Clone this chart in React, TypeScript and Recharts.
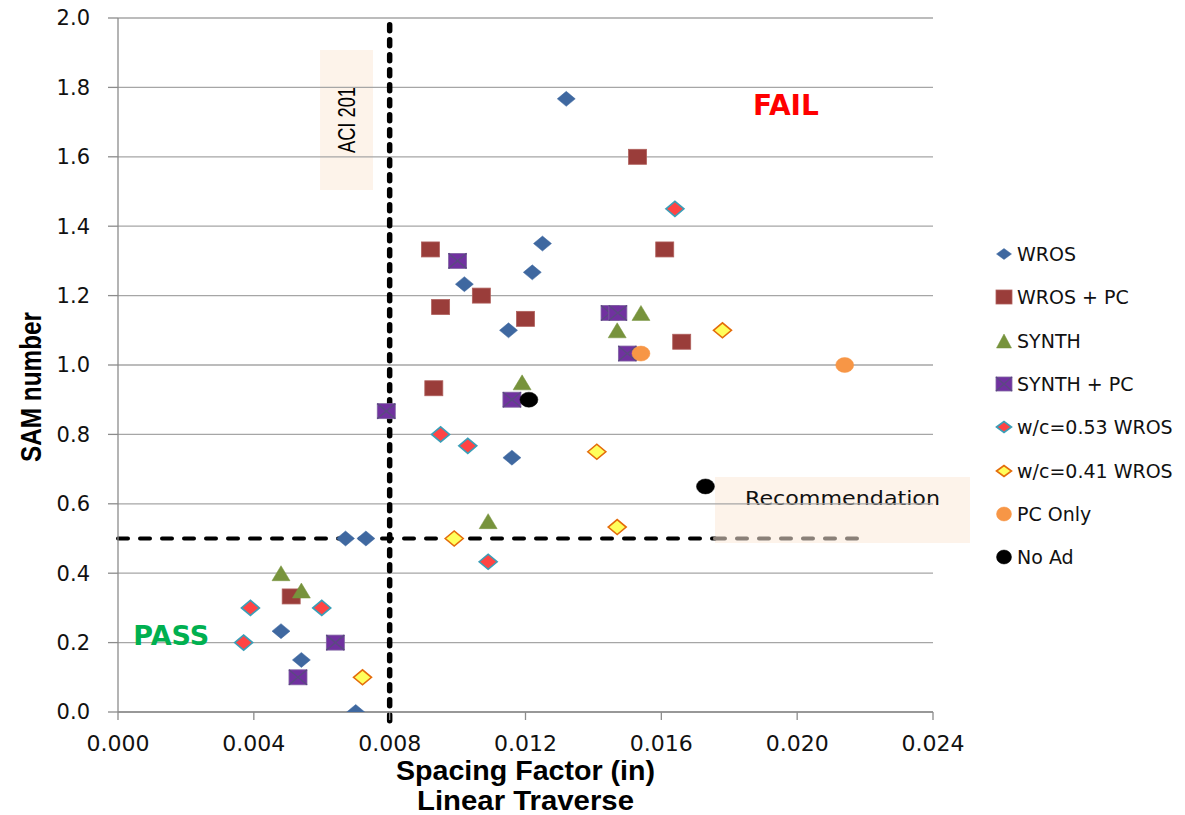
import React from 'react';
import {
  ScatterChart,
  Scatter,
  XAxis,
  YAxis,
  CartesianGrid,
  ReferenceLine,
  ReferenceArea,
  ReferenceDot,
} from 'recharts';

type Pt = [number, number];

const X_TICKS = [0, 0.004, 0.008, 0.012, 0.016, 0.02, 0.024];
const Y_TICKS = [0, 0.2, 0.4, 0.6, 0.8, 1.0, 1.2, 1.4, 1.6, 1.8, 2.0];

const WROS: Pt[] = [
  [0.0132, 1.767], [0.0125, 1.35], [0.0122, 1.267], [0.0102, 1.233], [0.0115, 1.1],
  [0.0116, 0.733], [0.0067, 0.5], [0.0073, 0.5], [0.0048, 0.233], [0.0054, 0.15], [0.007, 0],
];
const WROS_PC: Pt[] = [
  [0.0153, 1.6], [0.0092, 1.333], [0.0161, 1.333], [0.0107, 1.2], [0.0095, 1.167],
  [0.012, 1.133], [0.0166, 1.067], [0.0093, 0.933], [0.0051, 0.333],
];
const SYNTH: Pt[] = [
  [0.0154, 1.15], [0.0147, 1.1], [0.0119, 0.95], [0.0109, 0.55], [0.0048, 0.4], [0.0054, 0.35],
];
const SYNTH_PC: Pt[] = [
  [0.01, 1.3], [0.01449, 1.15], [0.01472, 1.15], [0.015, 1.033], [0.0116, 0.9],
  [0.0079, 0.867], [0.0064, 0.2], [0.0053, 0.1],
];
const WC053: Pt[] = [
  [0.0164, 1.45], [0.0095, 0.8], [0.0103, 0.767], [0.0109, 0.433], [0.0039, 0.3], [0.006, 0.3], [0.0037, 0.2],
];
const WC041: Pt[] = [
  [0.0178, 1.1], [0.0141, 0.75], [0.0147, 0.533], [0.0099, 0.5], [0.0072, 0.1],
];
const PC_ONLY: Pt[] = [[0.0154, 1.033], [0.0214, 1.0]];
const NO_AD: Pt[] = [[0.0121, 0.9], [0.0173, 0.65]];

type Kind = 'diamond' | 'square' | 'triangle' | 'xsquare' | 'circle';

interface SeriesDef {
  name: string;
  data: Pt[];
  kind: Kind;
  fill: string;
  stroke: string;
  sw: number;
}

const SERIES: SeriesDef[] = [
  { name: 'WROS', data: WROS, kind: 'diamond', fill: '#3f68a0', stroke: '#3f68a0', sw: 0.5 },
  { name: 'WROS + PC', data: WROS_PC, kind: 'square', fill: '#9a3d3a', stroke: '#b0605c', sw: 0.8 },
  { name: 'SYNTH', data: SYNTH, kind: 'triangle', fill: '#77933c', stroke: '#77933c', sw: 0.5 },
  { name: 'SYNTH + PC', data: SYNTH_PC, kind: 'xsquare', fill: '#7131a0', stroke: '#8064a2', sw: 0.8 },
  { name: 'w/c=0.53 WROS', data: WC053, kind: 'diamond', fill: '#ff4444', stroke: '#3a9fb8', sw: 1.6 },
  { name: 'w/c=0.41 WROS', data: WC041, kind: 'diamond', fill: '#ffff5c', stroke: '#e46c0a', sw: 1.6 },
  { name: 'PC Only', data: PC_ONLY, kind: 'circle', fill: '#f79646', stroke: '#f79646', sw: 0.5 },
  { name: 'No Ad', data: NO_AD, kind: 'circle', fill: '#000000', stroke: '#000000', sw: 0.5 },
];

const toPts = (d: Pt[]) => d.map(([x, y]) => ({ x, y }));

function Marker(props: {
  kind: Kind; cx: number; cy: number; fill: string; stroke: string; sw: number; w: number; h: number;
}) {
  const { kind, cx, cy, fill, stroke, sw, w, h } = props;
  if (cx == null || cy == null || isNaN(cx) || isNaN(cy)) return null;
  const hw = w / 2;
  const hh = h / 2;
  switch (kind) {
    case 'diamond':
      return (
        <path
          d={`M${cx - hw},${cy}L${cx},${cy - hh}L${cx + hw},${cy}L${cx},${cy + hh}Z`}
          fill={fill}
          stroke={stroke}
          strokeWidth={sw}
        />
      );
    case 'square':
      return <rect x={cx - hw} y={cy - hh} width={w} height={h} fill={fill} stroke={stroke} strokeWidth={sw} />;
    case 'xsquare':
      return (
        <g>
          <rect x={cx - hw} y={cy - hh} width={w} height={h} fill={fill} stroke={stroke} strokeWidth={sw} />
          <path
            d={`M${cx - hw},${cy - hh}L${cx + hw},${cy + hh}M${cx + hw},${cy - hh}L${cx - hw},${cy + hh}`}
            stroke="#5a4a80"
            strokeWidth={1.4}
          />
        </g>
      );
    case 'triangle':
      return (
        <path
          d={`M${cx},${cy - hh}L${cx + hw},${cy + hh}L${cx - hw},${cy + hh}Z`}
          fill={fill}
          stroke={stroke}
          strokeWidth={sw}
        />
      );
    case 'circle':
    default:
      return <ellipse cx={cx} cy={cy} rx={hw} ry={hh} fill={fill} stroke={stroke} strokeWidth={sw} />;
  }
}

const NARROW = "'Liberation Sans Narrow', 'Liberation Sans', Arial, sans-serif";
const SANS = "'Liberation Sans', Arial, sans-serif";
const DEJAVU = "'DejaVu Sans', sans-serif";

const renderAci = (p: any) => {
  const vb = p.viewBox;
  const cx = vb.x + vb.width / 2;
  const cy = vb.y + vb.height / 2;
  return (
    <text
      x={cx}
      y={cy}
      transform={`rotate(-90 ${cx} ${cy})`}
      textAnchor="middle"
      dominantBaseline="central"
      fontFamily={NARROW}
      fontSize={24}
      textLength={66}
      lengthAdjust="spacingAndGlyphs"
      fill="#000"
    >
      ACI 201
    </text>
  );
};

const renderRec = (p: any) => {
  const vb = p.viewBox;
  const cx = vb.x + vb.width / 2;
  return (
    <text
      x={cx}
      y={vb.y + 28}
      textAnchor="middle"
      fontFamily={DEJAVU}
      fontSize={19}
      textLength={195}
      lengthAdjust="spacingAndGlyphs"
      fill="#111"
    >
      Recommendation
    </text>
  );
};

const renderXTitle = (p: any) => {
  const vb = p.viewBox;
  const cx = vb.x + vb.width / 2;
  return (
    <g>
      <text
        x={cx}
        y={vb.y + 68}
        textAnchor="middle"
        fontFamily={SANS}
        fontWeight="bold"
        fontSize={27}
        textLength={259}
        lengthAdjust="spacingAndGlyphs"
        fill="#000"
      >
        Spacing Factor (in)
      </text>
      <text
        x={cx}
        y={vb.y + 98}
        textAnchor="middle"
        fontFamily={SANS}
        fontWeight="bold"
        fontSize={27}
        textLength={217}
        lengthAdjust="spacingAndGlyphs"
        fill="#000"
      >
        Linear Traverse
      </text>
    </g>
  );
};

const renderYTitle = (p: any) => {
  const vb = p.viewBox;
  const cx = vb.x - 18;
  const cy = vb.y + vb.height / 2 + 22;
  return (
    <text
      x={cx}
      y={cy}
      transform={`rotate(-90 ${cx} ${cy})`}
      textAnchor="middle"
      dominantBaseline="central"
      fontFamily={NARROW}
      fontWeight="bold"
      fontSize={30}
      textLength={150}
      lengthAdjust="spacingAndGlyphs"
      fill="#000"
    >
      SAM number
    </text>
  );
};

function Legend() {
  return (
    <div style={{ position: 'absolute', left: 994, top: 232, width: 190 }}>
      {SERIES.map((s, i) => (
        <div
          key={s.name}
          style={{ position: 'absolute', left: 0, top: i * 43.3, height: 44, display: 'flex', alignItems: 'center' }}
        >
          <svg width={22} height={22} style={{ display: 'block' }}>
            <Marker
              kind={s.kind}
              cx={10}
              cy={11}
              fill={s.fill}
              stroke={s.stroke}
              sw={s.sw}
              w={s.kind === 'square' || s.kind === 'xsquare' ? 16 : 15}
              h={s.kind === 'diamond' ? 11 : 14}
            />
          </svg>
          <span
            style={{
              marginLeft: 1,
              fontFamily: DEJAVU,
              fontSize: 19,
              color: '#111',
              whiteSpace: 'nowrap',
            }}
          >
            {s.name}
          </span>
        </div>
      ))}
    </div>
  );
}

export default function App() {
  return (
    <div style={{ position: 'relative', width: 1185, height: 815, marginTop: -8, marginLeft: -8 }}>
      <ScatterChart width={1185} height={815} margin={{ top: 18, right: 252, bottom: 73, left: 48 }}>
        <ReferenceArea
          x1={0.00595}
          x2={0.00751}
          y1={1.504}
          y2={1.908}
          fill="#fdf3ea"
          fillOpacity={1}
          stroke="none"
          ifOverflow="visible"
          zIndex={-200}
          label={renderAci}
        />
        <ReferenceArea
          x1={0.01758}
          x2={0.02509}
          y1={0.487}
          y2={0.677}
          fill="#fdf3ea"
          fillOpacity={1}
          stroke="none"
          ifOverflow="visible"
          zIndex={-200}
          label={renderRec}
        />
        <CartesianGrid vertical={false} stroke="#a6a6a6" strokeWidth={1.3} />
        <XAxis
          type="number"
          dataKey="x"
          domain={[0, 0.024]}
          ticks={X_TICKS}
          interval={0}
          allowDataOverflow
          tickFormatter={(v: number) => v.toFixed(3)}
          axisLine={{ stroke: '#8c8c8c', strokeWidth: 1.3 }}
          tickLine={{ stroke: '#8c8c8c', strokeWidth: 1.3 }}
          tickSize={8}
          tickMargin={15}
          tick={{ fill: '#111', fontSize: 22, fontFamily: DEJAVU }}
          height={30}
          label={renderXTitle}
        />
        <YAxis
          type="number"
          dataKey="y"
          domain={[0, 2]}
          ticks={Y_TICKS}
          interval={0}
          allowDataOverflow
          tickFormatter={(v: number) => v.toFixed(1)}
          axisLine={{ stroke: '#8c8c8c', strokeWidth: 1.3 }}
          tickLine={{ stroke: '#8c8c8c', strokeWidth: 1.3 }}
          tickSize={10}
          tickMargin={18}
          tick={{ fill: '#111', fontSize: 21, fontFamily: DEJAVU }}
          width={70}
          label={renderYTitle}
        />
        <ReferenceLine
          segment={[{ x: 0, y: 0.5 }, { x: 0.01758, y: 0.5 }]}
          stroke="#000"
          strokeWidth={4}
          strokeDasharray="10 12"
          strokeLinecap="round"
          ifOverflow="visible"
        />
        <ReferenceLine
          segment={[{ x: 0.01758, y: 0.5 }, { x: 0.0218, y: 0.5 }]}
          stroke="#8a8078"
          strokeWidth={4}
          strokeDasharray="10 12"
          strokeLinecap="round"
          ifOverflow="visible"
        />
        <ReferenceLine
          segment={[{ x: 0.008, y: -0.025 }, { x: 0.008, y: 2 }]}
          stroke="#000"
          strokeWidth={5.5}
          strokeDasharray="6 9"
          strokeLinecap="round"
          ifOverflow="visible"
        />
        {SERIES.map((s) => (
          <Scatter
            key={s.name}
            name={s.name}
            data={toPts(s.data)}
            isAnimationActive={false}
            shape={(p: any) => (
              <Marker kind={s.kind} cx={p.cx} cy={p.cy} fill={s.fill} stroke={s.stroke} sw={s.sw} w={18} h={15} />
            )}
          />
        ))}
        <ReferenceDot
          x={0.01967}
          y={1.749}
          r={0}
          fill="none"
          stroke="none"
          label={{
            value: 'FAIL',
            position: 'center',
            fill: '#ff0000',
            fontSize: 28,
            fontWeight: 'bold',
            fontFamily: DEJAVU,
          }}
        />
        <ReferenceDot
          x={0.00157}
          y={0.222}
          r={0}
          fill="none"
          stroke="none"
          label={{
            value: 'PASS',
            position: 'center',
            fill: '#00b050',
            fontSize: 27,
            fontWeight: 'bold',
            fontFamily: DEJAVU,
          }}
        />
      </ScatterChart>
      <Legend />
    </div>
  );
}
